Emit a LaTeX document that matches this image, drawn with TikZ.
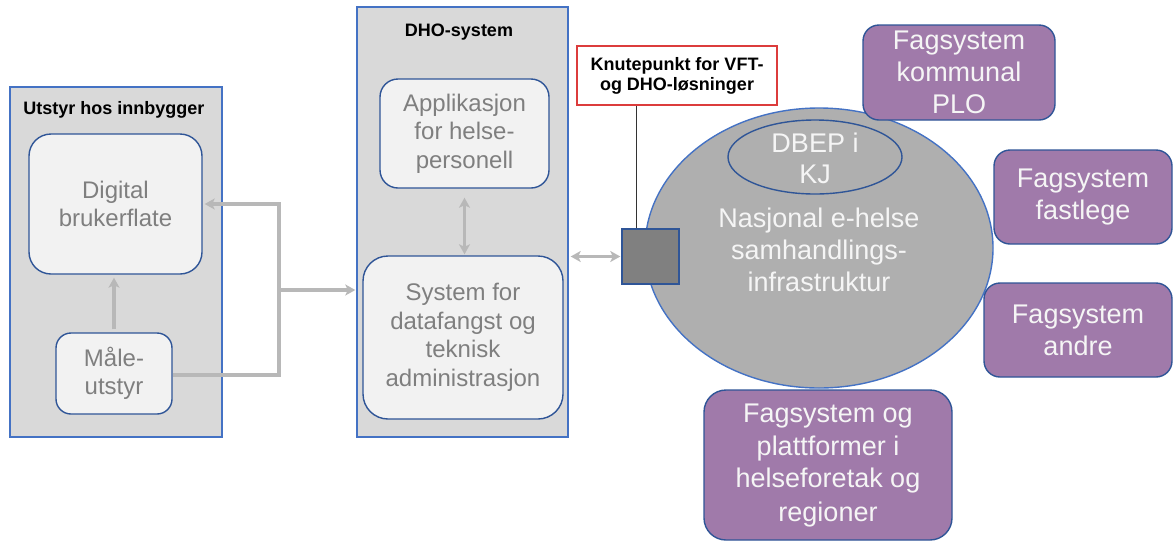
\documentclass[tikz,border=0pt]{standalone}
\usepackage{fontspec}
\setmainfont{Liberation Sans}
\usetikzlibrary{arrows.meta,shapes.geometric,calc}

\definecolor{panelfill}{RGB}{217,217,217}
\definecolor{panelline}{RGB}{68,114,196}
\definecolor{boxfill}{RGB}{242,242,242}
\definecolor{boxline}{RGB}{47,85,151}
\definecolor{boxtext}{RGB}{127,127,127}
\definecolor{linkgray}{RGB}{184,184,184}
\definecolor{hubfill}{RGB}{175,175,175}
\definecolor{portfill}{RGB}{128,128,128}
\definecolor{fagpurple}{RGB}{160,122,170}
\definecolor{notered}{RGB}{220,60,60}
\definecolor{softwhite}{RGB}{245,245,245}

\tikzset{
  panel/.style={draw=panelline, fill=panelfill, line width=1.4pt, inner sep=0pt},
  paneltitle/.style={font=\bfseries\fontsize{18}{20}\selectfont, inner sep=0pt},
  softbox/.style={draw=boxline, fill=boxfill, line width=1.4pt, text=boxtext,
    align=center, inner sep=0pt, font=\fontsize{24}{28.5}\selectfont},
  fagbox/.style={draw=boxline, fill=fagpurple, line width=1.4pt, text=softwhite,
    align=center, inner sep=0pt, rounded corners=16pt,
    font=\fontsize{27}{32}\selectfont},
  hubtext/.style={text=softwhite, align=center, inner sep=0pt,
    font=\fontsize{27}{32}\selectfont},
  tip/.tip={Stealth[length=10pt,width=11pt,inset=2.5pt]},
  link/.style={draw=linkgray, line width=3.4pt, -tip},
  link2/.style={draw=linkgray, line width=3.4pt, tip-tip},
}

\begin{document}
\begin{tikzpicture}[x=1pt,y=-1pt]
\useasboundingbox (0,0) rectangle (1174,542);

% --- equipment at the citizen ---
\node[panel, minimum width=212pt, minimum height=350pt] (citizen) at (116,262) {};
\node[paneltitle] (citizenTitle) at (114,110) {Utstyr hos innbygger};
\node[softbox, rounded corners=22pt, minimum width=173pt, minimum height=140pt]
  (digital) at (115.5,204) {Digital\\brukerflate};
\node[softbox, rounded corners=15pt, minimum width=116pt, minimum height=81pt]
  (maale) at (114,373.5) {Måle-\\utstyr};

% --- DHO system ---
\node[panel, minimum width=211pt, minimum height=430pt] (dho) at (462.5,222) {};
\node[paneltitle] (dhoTitle) at (459,32) {DHO-system};
\node[softbox, rounded corners=18pt, minimum width=169pt, minimum height=109pt]
  (app) at (464.5,133.5) {Applikasjon\\for helse-\\personell};
\node[softbox, rounded corners=25pt, minimum width=200pt, minimum height=163pt]
  (sys) at (463,337.5) {System for\\datafangst og\\teknisk\\administrasjon};

% --- national infrastructure ---
\node[ellipse, draw=panelline, fill=hubfill, line width=1.4pt,
  minimum width=348pt, minimum height=280pt, inner sep=0pt] (hub) at (819,248) {};
\node[ellipse, draw=boxline, fill=hubfill, line width=1.4pt,
  minimum width=174pt, minimum height=74pt, inner sep=0pt] (kj) at (815,157) {};
\node[hubtext, font=\fontsize{27}{31}\selectfont] (kjLabel) at (815,158) {DBEP i\\KJ};
\node[hubtext] (hubLabel) at (819,250) {Nasjonal e-helse\\samhandlings-\\infrastruktur};

% connection point
\node[draw=boxline, fill=portfill, line width=1.4pt, minimum width=57pt,
  minimum height=55pt, inner sep=0pt] (port) at (650.5,256.5) {};
\node[draw=notered, fill=white, line width=1.1pt, minimum width=200pt,
  minimum height=59pt, align=center, inner sep=0pt,
  font=\bfseries\fontsize{18}{20}\selectfont] (knute) at (677,75.5)
  {Knutepunkt for VFT-\\og DHO-løsninger};

% --- professional systems ---
\node[fagbox, minimum width=192pt, minimum height=95pt] (plo) at (959,72.5)
  {Fagsystem\\kommunal\\PLO};
\node[fagbox, minimum width=178pt, minimum height=94pt] (fastlege) at (1083,197)
  {Fagsystem\\fastlege};
\node[fagbox, minimum width=188pt, minimum height=94pt] (andre) at (1078,330)
  {Fagsystem\\andre};
\node[fagbox, rounded corners=22pt, minimum width=248pt, minimum height=150pt,
  font=\fontsize{27}{33}\selectfont] (hf) at (828,465)
  {Fagsystem og\\plattformer i\\helseforetak og\\regioner};

% --- connectors ---
\coordinate (split) at (279,290);
\draw[link, shorten <=3pt, shorten >=3pt] (maale.north) -- (maale.north |- digital.south);
\draw[link, shorten >=2pt] ([yshift=-1.5pt]maale.east) -| (split |- digital.east) -- (digital.east);
\draw[link, shorten >=1pt] (split) -- (split -| dho.west);
\draw[link2, shorten <=9pt, shorten >=1pt] (app.south) -- (app.south |- sys.north);
\draw[link2, shorten <=2pt, shorten >=1pt] (dho.east |- port.west) -- (port.west);
\draw[line width=1pt, draw=black!80] ([xshift=15pt]port.north west)
  -- ([xshift=15pt]port.north west |- knute.south);
\end{tikzpicture}
\end{document}
